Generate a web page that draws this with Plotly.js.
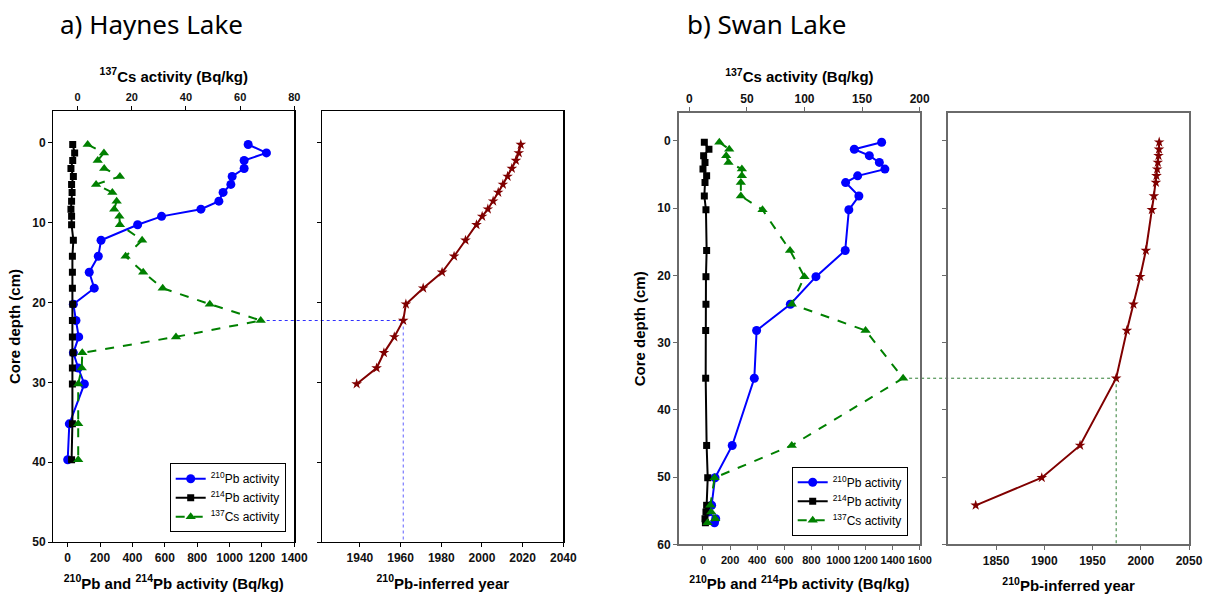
<!DOCTYPE html>
<html>
<head>
<meta charset="utf-8">
<script src="https://cdn.plot.ly/plotly-3.0.1.min.js"></script>
<style>html,body{margin:0;padding:0;background:#fff;}#chart{width:1211px;height:599px;}</style>
</head>
<body>
<div id="chart"></div>
<script>
// ---------- Haynes Lake ----------
const hDepth  = [0.2,1.25,2.2,3.2,4.2,5.2,6.2,7.3,8.3,9.2,10.25,12.2,14.2,16.2,18.2,20.2,22.25,24.3,26.3,28.2,30.2,35.2,39.7];
const hPb210  = [1115,1228,1090,1090,1016,1008,960,934,823,580,432,206,189,133,164,35,51,68,35,65,103,10,0];
const hPb214  = [31,43,31,20,35,24,27,24,20,24,24,35,29,29,29,31,29,29,33,29,29,29,24];
const hCs137  = [3.7,9.7,7.4,9.8,15.6,6.8,12.8,14.4,13.5,15.4,15.6,23.8,17.7,24.2,31.4,48.8,67.6,36.3,1.7,1.5,0.2,0.2,0.2];
const hYearDepth = [0.2,1.25,2.2,3.2,4.2,5.2,6.2,7.3,8.3,9.2,10.25,12.2,14.2,16.2,18.2,20.2,22.25,24.3,26.3,28.2,30.2];
const hYear   = [2019.1,2018.1,2016.7,2014.7,2012.6,2010.3,2008.0,2005.5,2002.9,2000.1,1997.3,1991.9,1986.3,1980.4,1971.1,1962.6,1961.3,1956.9,1951.8,1948.2,1938.4];

// ---------- Swan Lake ----------
const sDepth  = [0.2,1.25,2.2,3.2,4.2,5.2,6.2,8.2,10.25,16.3,20.2,24.3,28.2,35.3,45.3,50.1,54.2,55.2,56.2,56.8];
const sPb210  = [1319,1117,1228,1302,1343,1142,1053,1151,1077,1050,834,645,396,379,216,89,64,40,94,85];
const sPb214  = [10,44,5,15,0,27,15,10,22,27,22,22,20,20,27,35,27,22,15,18];
const sCs137  = [26,34.6,32,34,45.6,45.6,44.7,44.7,63.5,87.4,99.9,88.9,153,185.6,88.9,21.9,18.2,19,22.5,15.8];
const sYearDepth = [0.2,1.25,2.2,3.2,4.2,5.2,6.2,8.2,10.25,16.3,20.2,24.3,28.2,35.3,45.3,50.1,54.2];
const sYear   = [2019.1,2018.9,2018.4,2017.7,2017.0,2016.3,2015.7,2013.6,2011.5,2005.3,1999.4,1992.4,1985.6,1974.5,1937.1,1897.4,1828.9];

// labels
const panelTitles = ['a) Haynes Lake','b) Swan Lake'];
const seriesNames = ['<sup>210</sup>Pb activity','<sup>214</sup>Pb activity','<sup>137</sup>Cs activity'];
const csTitle   = '<sup>137</sup>Cs activity (Bq/kg)';
const pbTitle   = '<sup>210</sup>Pb and <sup>214</sup>Pb activity (Bq/kg)';
const yearTitle = '<sup>210</sup>Pb-inferred year';
const depthTitle = 'Core depth (cm)';

const W = 1211, H = 599;
const px = v => v / W;
const py = v => 1 - v / H;

const BLUE = '#0000ff', BLACK = '#000000', GREEN = '#008000', RED = '#800000';
const FAM = 'Liberation Sans, Arial, sans-serif';
const tickFont = {family:FAM, size:12, color:'#111', weight:'bold'};
const tickFontB = {family:FAM, size:11, color:'#111', weight:'bold'};
const titleFont = {family:FAM, size:15, color:'#000', weight:'bold'};

// domains
const domA1 = [px(53.3), px(294.3)], domA2 = [px(322.3), px(563.3)];
const domB1 = [px(679), px(919.7)],  domB2 = [px(948.3), px(1189)];
const ydomA = [py(542), py(111)], ydomB = [py(544.3), py(113.3)];

const rng = {
  x: [-89,1400], x2: [-9,80], y: [50,-4], x3: [1921.5,2040], y3: [50,-4],
  x4: [-177,1600], x5: [-9,200], y4: [60,-4.1], x6: [1800.5,2050], y6: [60,-4.1]
};

function mkTraces(depth, pb210, pb214, cs, yd, yr, xa, xcs, ya, xyear, yyear, leg) {
  return [
    {x:pb210, y:depth, xaxis:xa, yaxis:ya, name:seriesNames[0], legend:leg, mode:'lines+markers',
     line:{color:BLUE,width:2}, marker:{symbol:'circle',size:9,color:BLUE}},
    {x:pb214, y:depth, xaxis:xa, yaxis:ya, name:seriesNames[1], legend:leg, mode:'lines+markers',
     line:{color:BLACK,width:2}, marker:{symbol:'square',size:7,color:BLACK}},
    {x:cs, y:depth, xaxis:xcs, yaxis:ya, name:seriesNames[2], legend:leg, mode:'lines+markers',
     line:{color:GREEN,width:2,dash:'dash'}, marker:{symbol:'triangle-up',size:9,color:GREEN}},
    {x:yr, y:yd, xaxis:xyear, yaxis:yyear, showlegend:false, mode:'lines+markers',
     line:{color:RED,width:2}, marker:{symbol:'star',size:8,color:RED}}
  ];
}

const traces = [
  ...mkTraces(hDepth,hPb210,hPb214,hCs137,hYearDepth,hYear,'x','x2','y','x3','y3','legend'),
  ...mkTraces(sDepth,sPb210,sPb214,sCs137,sYearDepth,sYear,'x4','x5','y4','x6','y6','legend2')
];

function axBase(col, lw) {
  return {showline:true, linecolor:col, linewidth:lw, ticks:'outside', ticklen:4, tickwidth:1, tickcolor:col,
          showgrid:false, zeroline:false, tickfont:tickFont, tickangle:0, fixedrange:true};
}

// data -> paper helper for cross-subplot dotted lines
function toPaper(v, dom, r) { return dom[0] + (v - r[0]) / (r[1] - r[0]) * (dom[1] - dom[0]); }
function peakIdx(a) { let k = 0; a.forEach((v,i)=>{ if (v > a[k]) k = i; }); return k; }

const hk = peakIdx(hCs137), sk = peakIdx(sCs137);
const hPeakDepth = hDepth[hk], sPeakDepth = sDepth[sk];
const hYi = hYearDepth.indexOf(hPeakDepth), sYi = sYearDepth.indexOf(sPeakDepth);

const colA = '#000', colB = '#6a6a6a';
const legFont = {family:FAM, size:12, color:'#000'};
const layout = {
  width: W, height: H, margin:{l:0,r:0,t:0,b:0}, paper_bgcolor:'#fff', plot_bgcolor:'#fff',
  font:{family:FAM},
  xaxis: Object.assign(axBase(colA,1.3), {domain:domA1, anchor:'y', range:rng.x, tickvals:[0,200,400,600,800,1000,1200,1400],
         title:{text:pbTitle, font:titleFont, standoff:14}}),
  xaxis2: Object.assign(axBase(colA,1.3), {overlaying:'x', side:'top', anchor:'y', range:rng.x2, tickvals:[0,20,40,60,80],
         tickfont:tickFontB, title:{text:csTitle, font:titleFont, standoff:5}}),
  yaxis: Object.assign(axBase(colA,1.3), {domain:ydomA, anchor:'x', range:rng.y, tickvals:[0,10,20,30,40,50], mirror:true,
         title:{text:depthTitle, font:titleFont, standoff:8}}),
  xaxis3: Object.assign(axBase(colA,1.3), {domain:domA2, anchor:'y3', range:rng.x3, tickvals:[1940,1960,1980,2000,2020,2040], mirror:true,
         title:{text:yearTitle, font:titleFont, standoff:14}}),
  yaxis3: Object.assign(axBase(colA,1.3), {domain:ydomA, anchor:'x3', range:rng.y3, tickvals:[0,10,20,30,40,50], showticklabels:false, mirror:true}),
  xaxis4: Object.assign(axBase(colB,2), {domain:domB1, anchor:'y4', range:rng.x4, tickvals:[0,200,400,600,800,1000,1200,1400,1600],
         tickfont:tickFontB, title:{text:pbTitle, font:titleFont, standoff:14}}),
  xaxis5: Object.assign(axBase(colB,2), {overlaying:'x4', side:'top', anchor:'y4', range:rng.x5, tickvals:[0,50,100,150,200],
         title:{text:csTitle, font:titleFont, standoff:5}}),
  yaxis4: Object.assign(axBase(colB,2), {domain:ydomB, anchor:'x4', range:rng.y4, tickvals:[0,10,20,30,40,50,60], mirror:true,
         title:{text:depthTitle, font:titleFont, standoff:8}}),
  xaxis6: Object.assign(axBase(colB,2), {domain:domB2, anchor:'y6', range:rng.x6, tickvals:[1850,1900,1950,2000,2050], mirror:true,
         title:{text:yearTitle, font:titleFont, standoff:14}}),
  yaxis6: Object.assign(axBase(colB,2), {domain:ydomB, anchor:'x6', range:rng.y6, tickvals:[0,10,20,30,40,50,60], showticklabels:false, mirror:true}),
  legend: {x:px(285.7), y:py(532.3), xanchor:'right', yanchor:'bottom', bgcolor:'#fff', bordercolor:'#000', borderwidth:1,
           font:legFont, tracegroupgap:0, itemwidth:30},
  legend2: {x:px(907.7), y:py(535.7), xanchor:'right', yanchor:'bottom', bgcolor:'#fff', bordercolor:'#000', borderwidth:1,
           font:legFont, tracegroupgap:0, itemwidth:30},
  shapes: [
    {type:'line', xref:'paper', yref:'y', x0:toPaper(hCs137[hk],domA1,rng.x2), x1:toPaper(hYear[hYi],domA2,rng.x3),
     y0:hPeakDepth, y1:hPeakDepth, line:{color:'#3030ff', width:1, dash:'dot'}, layer:'below'},
    {type:'line', xref:'x3', yref:'y3', x0:hYear[hYi], x1:hYear[hYi], y0:hPeakDepth, y1:rng.y3[0],
     line:{color:'#6060ff', width:1, dash:'dot'}, layer:'below'},
    {type:'line', xref:'paper', yref:'y4', x0:toPaper(sCs137[sk],domB1,rng.x5), x1:toPaper(sYear[sYi],domB2,rng.x6),
     y0:sPeakDepth, y1:sPeakDepth, line:{color:'#2e7d32', width:1, dash:'dot'}, layer:'below'},
    {type:'line', xref:'x6', yref:'y6', x0:sYear[sYi], x1:sYear[sYi], y0:sPeakDepth, y1:rng.y6[0],
     line:{color:'#2e7d32', width:1, dash:'dot'}, layer:'below'}
  ],
  annotations: [
    {text:panelTitles[0], xref:'paper', yref:'paper', x:px(58), y:py(24), xanchor:'left', yanchor:'middle', showarrow:false,
     font:{family:'Noto Sans, Open Sans, sans-serif', size:26, color:'#000'}},
    {text:panelTitles[1], xref:'paper', yref:'paper', x:px(685), y:py(24), xanchor:'left', yanchor:'middle', showarrow:false,
     font:{family:'Noto Sans, Open Sans, sans-serif', size:26, color:'#000'}}
  ]
};

Plotly.newPlot('chart', traces, layout, {displayModeBar:false, staticPlot:true});
</script>
</body>
</html>
